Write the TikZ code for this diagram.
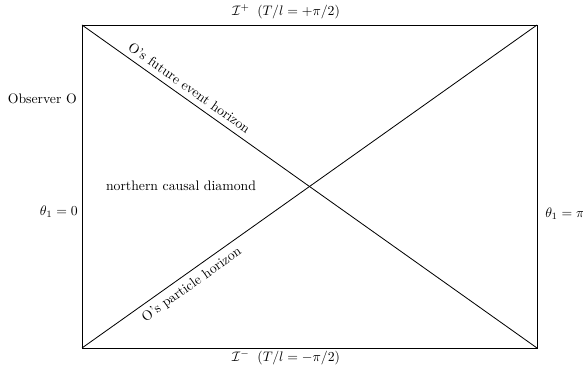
\documentclass[tikz,border=0pt]{standalone}
\begin{document}
\begin{tikzpicture}[x=0.7273pt,y=-0.7273pt,
  edge/.style={draw=black,line width=0.6pt},
  lbl/.style={inner sep=0pt,font=\normalsize}]
\useasboundingbox (0,0) rectangle (583,368);
\coordinate (tl) at (82,25);
\coordinate (tr) at (537,25);
\coordinate (br) at (537,348);
\coordinate (bl) at (82,348);
\draw[edge] (tl) -- (tr) -- (br) -- (bl) -- cycle;
\draw[edge] (tl) -- node[pos=0.222,sloped,above=4pt,lbl]{O's future event horizon} (br);
\draw[edge] (bl) -- node[pos=0.226,sloped,below=4pt,lbl]{O's particle horizon} (tr);
\node[lbl] (scriplus) at (286,12) {$\mathcal{I}^+\;\;(T/l=+\pi/2)$};
\node[lbl] (scrimin) at (286,358) {$\mathcal{I}^-\;\;(T/l=-\pi/2)$};
\node[lbl,anchor=east] (obs) at (77,99) {Observer O};
\node[lbl,anchor=east] (th0) at (78,212) {$\theta_1=0$};
\node[lbl,anchor=west] (thpi) at (545,214) {$\theta_1=\pi$};
\node[lbl] (ncd) at (181,186) {northern causal diamond};
\end{tikzpicture}
\end{document}
